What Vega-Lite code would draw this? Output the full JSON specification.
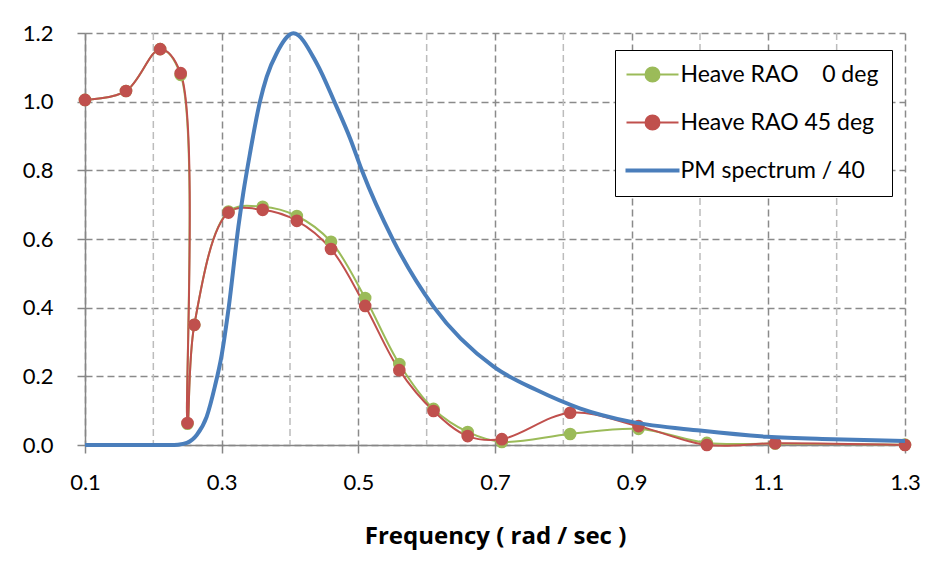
{
  "$schema": "https://vega.github.io/schema/vega-lite/v6.json",
  "width": 820,
  "height": 412,
  "autosize": {"type": "none"},
  "padding": {"left": 85, "top": 33, "right": 38, "bottom": 124},
  "background": "white",
  "config": {"view": {"stroke": null}, "font": "Lato"},
  "datasets": {
    "minor": [{"f": 0.2}, {"f": 0.4}, {"f": 0.6}, {"f": 0.8}, {"f": 1.0}, {"f": 1.2}],
    "main": [
      {"series": "Heave RAO\u00a0\u00a0\u00a0\u00a00 deg", "f": 0.1, "v": 1.005},
      {"series": "Heave RAO\u00a0\u00a0\u00a0\u00a00 deg", "f": 0.16, "v": 1.031},
      {"series": "Heave RAO\u00a0\u00a0\u00a0\u00a00 deg", "f": 0.21, "v": 1.153},
      {"series": "Heave RAO\u00a0\u00a0\u00a0\u00a00 deg", "f": 0.24, "v": 1.078},
      {"series": "Heave RAO\u00a0\u00a0\u00a0\u00a00 deg", "f": 0.25, "v": 0.062},
      {"series": "Heave RAO\u00a0\u00a0\u00a0\u00a00 deg", "f": 0.26, "v": 0.35},
      {"series": "Heave RAO\u00a0\u00a0\u00a0\u00a00 deg", "f": 0.31, "v": 0.68},
      {"series": "Heave RAO\u00a0\u00a0\u00a0\u00a00 deg", "f": 0.36, "v": 0.694},
      {"series": "Heave RAO\u00a0\u00a0\u00a0\u00a00 deg", "f": 0.41, "v": 0.667},
      {"series": "Heave RAO\u00a0\u00a0\u00a0\u00a00 deg", "f": 0.46, "v": 0.592},
      {"series": "Heave RAO\u00a0\u00a0\u00a0\u00a00 deg", "f": 0.51, "v": 0.428},
      {"series": "Heave RAO\u00a0\u00a0\u00a0\u00a00 deg", "f": 0.56, "v": 0.236},
      {"series": "Heave RAO\u00a0\u00a0\u00a0\u00a00 deg", "f": 0.61, "v": 0.105},
      {"series": "Heave RAO\u00a0\u00a0\u00a0\u00a00 deg", "f": 0.66, "v": 0.038},
      {"series": "Heave RAO\u00a0\u00a0\u00a0\u00a00 deg", "f": 0.71, "v": 0.009},
      {"series": "Heave RAO\u00a0\u00a0\u00a0\u00a00 deg", "f": 0.81, "v": 0.032},
      {"series": "Heave RAO\u00a0\u00a0\u00a0\u00a00 deg", "f": 0.91, "v": 0.047},
      {"series": "Heave RAO\u00a0\u00a0\u00a0\u00a00 deg", "f": 1.01, "v": 0.006},
      {"series": "Heave RAO\u00a0\u00a0\u00a0\u00a00 deg", "f": 1.11, "v": 0.004},
      {"series": "Heave RAO\u00a0\u00a0\u00a0\u00a00 deg", "f": 1.3, "v": 0.001},
      {"series": "Heave RAO 45 deg", "f": 0.1, "v": 1.005},
      {"series": "Heave RAO 45 deg", "f": 0.16, "v": 1.031},
      {"series": "Heave RAO 45 deg", "f": 0.21, "v": 1.153},
      {"series": "Heave RAO 45 deg", "f": 0.24, "v": 1.083},
      {"series": "Heave RAO 45 deg", "f": 0.25, "v": 0.064},
      {"series": "Heave RAO 45 deg", "f": 0.26, "v": 0.35},
      {"series": "Heave RAO 45 deg", "f": 0.31, "v": 0.677},
      {"series": "Heave RAO 45 deg", "f": 0.36, "v": 0.685},
      {"series": "Heave RAO 45 deg", "f": 0.41, "v": 0.653},
      {"series": "Heave RAO 45 deg", "f": 0.46, "v": 0.571},
      {"series": "Heave RAO 45 deg", "f": 0.51, "v": 0.405},
      {"series": "Heave RAO 45 deg", "f": 0.56, "v": 0.218},
      {"series": "Heave RAO 45 deg", "f": 0.61, "v": 0.099},
      {"series": "Heave RAO 45 deg", "f": 0.66, "v": 0.026},
      {"series": "Heave RAO 45 deg", "f": 0.71, "v": 0.017},
      {"series": "Heave RAO 45 deg", "f": 0.81, "v": 0.094},
      {"series": "Heave RAO 45 deg", "f": 0.91, "v": 0.055},
      {"series": "Heave RAO 45 deg", "f": 1.01, "v": 0.0},
      {"series": "Heave RAO 45 deg", "f": 1.11, "v": 0.005},
      {"series": "Heave RAO 45 deg", "f": 1.3, "v": 0.0},
      {"series": "PM spectrum / 40", "f": 0.1, "v": 0.0},
      {"series": "PM spectrum / 40", "f": 0.15, "v": 0.0},
      {"series": "PM spectrum / 40", "f": 0.2, "v": 0.0},
      {"series": "PM spectrum / 40", "f": 0.225, "v": 0.0},
      {"series": "PM spectrum / 40", "f": 0.236, "v": 0.001},
      {"series": "PM spectrum / 40", "f": 0.249, "v": 0.006},
      {"series": "PM spectrum / 40", "f": 0.2635, "v": 0.029},
      {"series": "PM spectrum / 40", "f": 0.278, "v": 0.082},
      {"series": "PM spectrum / 40", "f": 0.29, "v": 0.17},
      {"series": "PM spectrum / 40", "f": 0.3, "v": 0.262},
      {"series": "PM spectrum / 40", "f": 0.31, "v": 0.396},
      {"series": "PM spectrum / 40", "f": 0.3244, "v": 0.635},
      {"series": "PM spectrum / 40", "f": 0.3317, "v": 0.735},
      {"series": "PM spectrum / 40", "f": 0.3415, "v": 0.85},
      {"series": "PM spectrum / 40", "f": 0.356, "v": 1.0},
      {"series": "PM spectrum / 40", "f": 0.366, "v": 1.073},
      {"series": "PM spectrum / 40", "f": 0.3805, "v": 1.141},
      {"series": "PM spectrum / 40", "f": 0.405, "v": 1.199},
      {"series": "PM spectrum / 40", "f": 0.439, "v": 1.112},
      {"series": "PM spectrum / 40", "f": 0.466, "v": 0.995},
      {"series": "PM spectrum / 40", "f": 0.488, "v": 0.893},
      {"series": "PM spectrum / 40", "f": 0.505, "v": 0.801},
      {"series": "PM spectrum / 40", "f": 0.551, "v": 0.597},
      {"series": "PM spectrum / 40", "f": 0.61, "v": 0.403},
      {"series": "PM spectrum / 40", "f": 0.698, "v": 0.228},
      {"series": "PM spectrum / 40", "f": 0.761, "v": 0.16},
      {"series": "PM spectrum / 40", "f": 0.824, "v": 0.107},
      {"series": "PM spectrum / 40", "f": 0.898, "v": 0.068},
      {"series": "PM spectrum / 40", "f": 1.0, "v": 0.042},
      {"series": "PM spectrum / 40", "f": 1.098, "v": 0.024},
      {"series": "PM spectrum / 40", "f": 1.195, "v": 0.017},
      {"series": "PM spectrum / 40", "f": 1.3, "v": 0.012}
    ]
  },
  "encoding": {
    "x": {
      "field": "f",
      "type": "quantitative",
      "scale": {"domain": [0.1, 1.3], "nice": false, "zero": false},
      "axis": {
        "values": [0.1, 0.3, 0.5, 0.7, 0.9, 1.1, 1.3],
        "format": ".1f",
        "title": "Frequency ( rad / sec )",
        "titleFont": "Open Sans",
        "titleFontSize": 24,
        "titleFontWeight": "bold",
        "titleColor": "black",
        "titlePadding": 31,
        "labelFont": "Lato",
        "labelFontSize": 22,
        "labelColor": "black",
        "labelPadding": 19,
        "labelFlush": false,
        "labelOverlap": false,
        "tickSize": 8,
        "tickWidth": 1.5,
        "tickColor": "#868686",
        "domainColor": "#868686",
        "domainWidth": 1.5,
        "grid": true,
        "gridColor": "#8a8a8a",
        "gridDash": [7, 4],
        "gridWidth": 1.5
      }
    }
  },
  "layer": [
    {
      "data": {"name": "minor"},
      "mark": {"type": "rule", "color": "#bcbcbc", "strokeDash": [7, 4], "strokeWidth": 1.5}
    },
    {
      "data": {"name": "main"},
      "transform": [{"filter": "datum.series != 'PM spectrum / 40'"}],
      "mark": {"type": "line", "interpolate": "catmull-rom", "strokeWidth": 2},
      "encoding": {
        "y": {
          "field": "v",
          "type": "quantitative",
          "scale": {"domain": [0, 1.2], "nice": false},
          "axis": {
            "values": [0, 0.2, 0.4, 0.6, 0.8, 1.0, 1.2],
            "format": ".1f",
            "title": null,
            "labelFont": "Lato",
            "labelFontSize": 22,
            "labelColor": "black",
            "labelPadding": 24,
            "labelFlush": false,
            "labelOverlap": false,
            "tickSize": 8,
            "tickWidth": 1.5,
            "tickColor": "#868686",
            "domainColor": "#868686",
            "domainWidth": 1.5,
            "grid": true,
            "gridColor": "#8a8a8a",
            "gridDash": [7, 4],
            "gridWidth": 1.5
          }
        },
        "color": {
          "field": "series",
          "type": "nominal",
          "scale": {
            "domain": ["Heave RAO\u00a0\u00a0\u00a0\u00a00 deg", "Heave RAO 45 deg", "PM spectrum / 40"],
            "range": ["#9BBB59", "#C0504D", "#4A7EBB"]
          },
          "legend": {
            "orient": "none",
            "legendX": 530,
            "legendY": 17,
            "title": null,
            "strokeColor": "black",
            "fillColor": "white",
            "padding": 13,
            "symbolSize": 2704,
            "symbolStrokeWidth": 2,
            "symbolOffset": -2.5,
            "labelFont": "Lato",
            "labelFontSize": 23,
            "labelColor": "black",
            "labelOffset": 1,
            "labelLimit": 400,
            "rowPadding": 24,
            "encode": {
              "symbols": {
                "update": {
                  "size": {"value": 2704},
                  "y": {"value": 11.5},
                  "shape": {"signal": "datum.value == 'PM spectrum / 40' ? 'M-1,-0.04L1,-0.04L1,0.04L-1,0.04Z' : 'M-1,0L1,0M0.27,0A0.27,0.27,0,1,1,-0.27,0A0.27,0.27,0,1,1,0.27,0Z'"},
                  "fill": {"signal": "scale('color', datum.value)"},
                  "stroke": {"signal": "scale('color', datum.value)"},
                  "strokeWidth": {"value": 2},
                  "opacity": {"value": 1}
                }
              },
              "labels": {
                "update": {
                  "y": {"value": 11.5}
                }
              }
            }
          }
        }
      }
    },
    {
      "data": {"name": "main"},
      "transform": [{"filter": "datum.series != 'PM spectrum / 40'"}],
      "mark": {"type": "point", "filled": true, "size": 160, "opacity": 1},
      "encoding": {
        "y": {"field": "v", "type": "quantitative"},
        "color": {"field": "series", "type": "nominal"}
      }
    },
    {
      "data": {"name": "main"},
      "transform": [{"filter": "datum.series == 'PM spectrum / 40'"}],
      "mark": {"type": "line", "interpolate": "monotone", "strokeWidth": 4},
      "encoding": {
        "y": {"field": "v", "type": "quantitative"},
        "color": {"field": "series", "type": "nominal"}
      }
    }
  ]
}
